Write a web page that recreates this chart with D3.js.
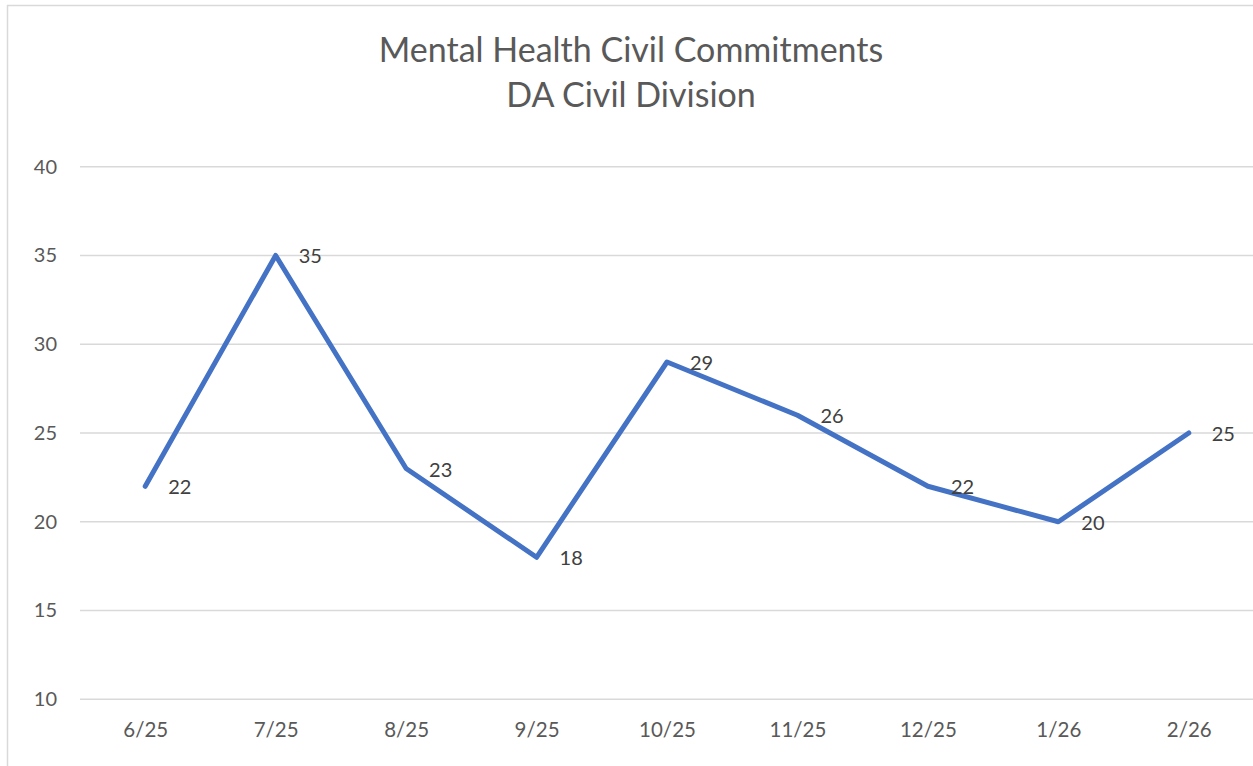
<!DOCTYPE html>
<html>
<head>
<meta charset="utf-8">
<script src="https://cdn.jsdelivr.net/npm/d3@7"></script>
<style>
  body { margin: 0; background: #fff; }
  svg { display: block; font-family: Lato, "Open Sans", sans-serif; }
</style>
</head>
<body>
<div id="chart"></div>
<script>
// data
const months = ["6/25", "7/25", "8/25", "9/25", "10/25", "11/25", "12/25", "1/26", "2/26"];
const commitments = [22, 35, 23, 18, 29, 26, 22, 20, 25];
const yTicks = [10, 15, 20, 25, 30, 35, 40];
const titleLines = ["Mental Health Civil Commitments", "DA Civil Division"];

const W = 1253, H = 766;
const plot = { left: 80, right: 1254, top: 166.7, bottom: 699.3 };

const svg = d3.select("#chart").append("svg")
    .attr("width", W)
    .attr("height", H);

// chart border (right/bottom edges fall off the picture)
svg.append("rect")
    .attr("x", 7.5).attr("y", 5.5)
    .attr("width", W + 10).attr("height", H + 10)
    .attr("fill", "none")
    .attr("stroke", "#d9d9d9")
    .attr("stroke-width", 1.5);

const rows = months.map((m, i) => ({ month: m, value: commitments[i] }));

const x = d3.scalePoint()
    .domain(months)
    .range([plot.left, plot.right])
    .padding(0.5);

const y = d3.scaleLinear()
    .domain([10, 40])
    .range([plot.bottom, plot.top]);

// gridlines
svg.append("g")
  .selectAll("line")
  .data(yTicks)
  .enter().append("line")
    .attr("x1", plot.left)
    .attr("x2", plot.right)
    .attr("y1", d => y(d))
    .attr("y2", d => y(d))
    .attr("stroke", "#d9d9d9")
    .attr("stroke-width", 1.5);

// y axis labels
const yAxis = svg.append("g")
    .attr("transform", `translate(${plot.left}, 0)`)
    .call(d3.axisLeft(y).tickValues(yTicks).tickSize(0).tickPadding(23));
yAxis.select(".domain").remove();
yAxis.selectAll("text")
    .style("font-size", "20px")
    .style("fill", "#595959")
    .style("font-family", "Lato, 'Open Sans', sans-serif");

// x axis labels
const xAxis = svg.append("g")
    .attr("transform", `translate(0, ${plot.bottom})`)
    .call(d3.axisBottom(x).tickSize(0).tickPadding(23));
xAxis.select(".domain").remove();
xAxis.selectAll("text")
    .style("font-size", "20.5px")
    .style("fill", "#595959")
    .style("font-family", "Lato, 'Open Sans', sans-serif");

// the line
const line = d3.line()
    .x(d => x(d.month))
    .y(d => y(d.value));

svg.append("path")
    .datum(rows)
    .attr("d", line)
    .attr("fill", "none")
    .attr("stroke", "#4472c4")
    .attr("stroke-width", 5)
    .attr("stroke-linejoin", "round")
    .attr("stroke-linecap", "round");

// value labels, to the right of each point
svg.append("g")
  .selectAll("text")
  .data(rows)
  .enter().append("text")
    .attr("x", d => x(d.month) + 23)
    .attr("y", d => y(d.value))
    .attr("dy", "0.4em")
    .style("font-size", "20px")
    .style("fill", "#404040")
    .text(d => d.value);

// title
svg.append("text")
    .attr("x", 631)
    .attr("y", 62)
    .attr("text-anchor", "middle")
    .style("font-size", "34px")
    .style("fill", "#595959")
  .selectAll("tspan")
  .data(titleLines)
  .enter().append("tspan")
    .attr("x", 631)
    .attr("dy", (d, i) => i === 0 ? 0 : 45)
    .text(d => d);
</script>
</body>
</html>
